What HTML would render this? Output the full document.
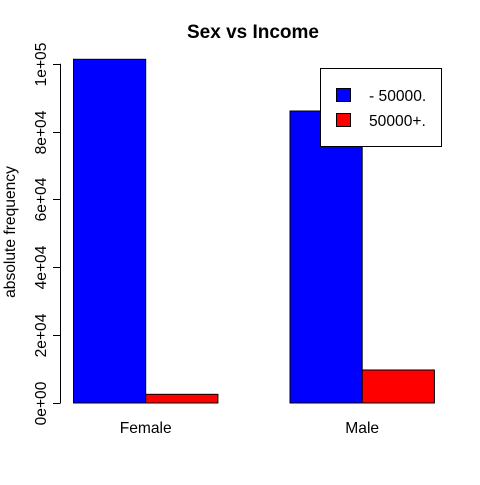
<!DOCTYPE html>
<html><head><meta charset="utf-8"><style>
body{margin:0;background:#fff}
svg text{font-family:"Liberation Sans",Arial,sans-serif}
</style></head><body>
<svg id="chart" width="480" height="480" xmlns="http://www.w3.org/2000/svg">
<text x="253" y="38" font-size="19" font-weight="bold" text-anchor="middle">Sex vs Income</text>
<text transform="translate(15,232) rotate(-90)" font-size="15.6" text-anchor="middle">absolute frequency</text>
<g id="bars"></g>
<g id="yaxis"></g>
<g id="xlabels"></g>
<g>
<rect x="320.5" y="68.5" width="121" height="78" fill="#fff" stroke="#000"/>
<rect x="336.5" y="88.5" width="14" height="13" fill="#0000ff" stroke="#000"/>
<text x="369" y="101" font-size="15.6">- 50000.</text>
<rect x="336.5" y="113.5" width="14" height="13" fill="#ff0000" stroke="#000"/>
<text x="369" y="126" font-size="15.6">50000+.</text>
</g>
</svg>
<script>
const categories = ["Female", "Male"];
const under50k = [101300, 86060];
const over50k = [2560, 9730];
const yTicks = [0, 20000, 40000, 60000, 80000, 100000];
const yTickLabels = ["0e+00", "2e+04", "4e+04", "6e+04", "8e+04", "1e+05"];

const NS = "http://www.w3.org/2000/svg";
const y0 = 403, pxPer = 339.3 / 100000;
const yScale = v => y0 - v * pxPer;
const groupLeft = i => 73.5 + i * 216.5;
const barW = 72.2;
function mk(tag, attrs, parent){const e=document.createElementNS(NS,tag);for(const k in attrs)e.setAttribute(k,attrs[k]);parent.appendChild(e);return e;}
const bars = document.getElementById("bars");
categories.forEach((c, i) => {
  const x = groupLeft(i);
  const b1 = mk("rect", {x: x, y: yScale(under50k[i]), width: barW, height: y0 - yScale(under50k[i]), fill: "#0000ff", stroke: "#000"}, bars);
  
  
  const b2 = mk("rect", {x: x + barW, y: yScale(over50k[i]), width: barW, height: y0 - yScale(over50k[i]), fill: "#ff0000", stroke: "#000"}, bars);
  
  
  const t = mk("text", {x: x + barW, y: 433, "font-size": 15.6, "text-anchor": "middle"}, document.getElementById("xlabels"));
  t.textContent = c;
  
  
});
const ya = document.getElementById("yaxis");
mk("line", {x1: 60.5, x2: 60.5, y1: yScale(yTicks[0]), y2: yScale(yTicks[yTicks.length-1]), stroke: "#000"}, ya);
yTicks.forEach((v, i) => {
  const y = Math.round(yScale(v)) + 0.5;
  mk("line", {x1: 53, x2: 60.5, y1: y, y2: y, stroke: "#000"}, ya);
  const t = mk("text", {transform: "translate(46," + y + ") rotate(-90)", "font-size": 15.6, "text-anchor": "middle"}, ya);
  t.textContent = yTickLabels[i];
  
  
});
</script>
</body></html>
